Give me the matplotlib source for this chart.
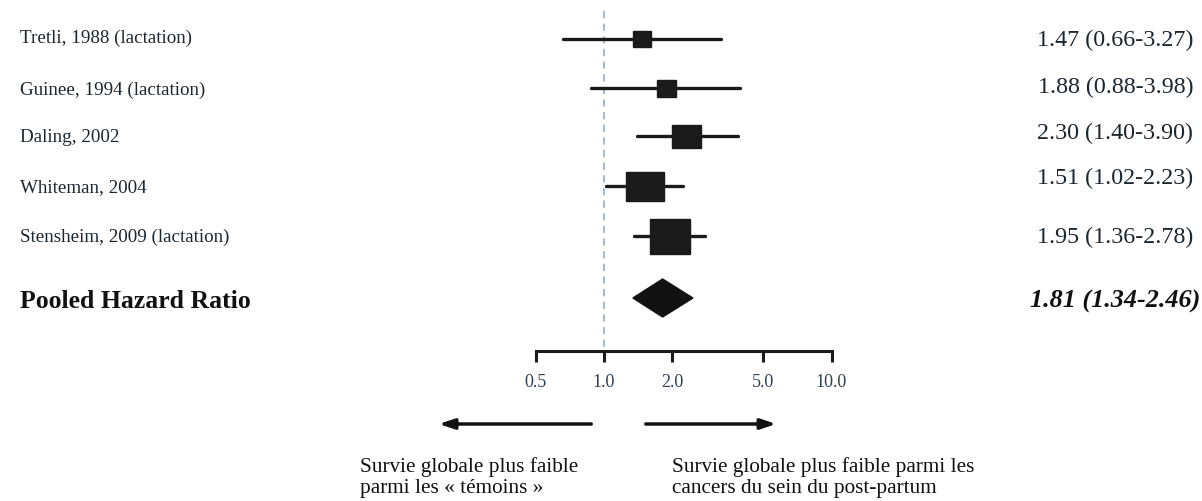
import matplotlib
matplotlib.use("Agg")
import matplotlib.pyplot as plt
from matplotlib.patches import Rectangle, Polygon
import numpy as np

# ---- data ----
studies = ["Tretli, 1988 (lactation)", "Guinee, 1994 (lactation)", "Daling, 2002",
           "Whiteman, 2004", "Stensheim, 2009 (lactation)"]
hr = [1.47, 1.88, 2.30, 1.51, 1.95]
lo = [0.66, 0.88, 1.40, 1.02, 1.36]
hi = [3.27, 3.98, 3.90, 2.23, 2.78]
ci_labels = ["1.47 (0.66-3.27)", "1.88 (0.88-3.98)", "2.30 (1.40-3.90)",
             "1.51 (1.02-2.23)", "1.95 (1.36-2.78)"]
pooled_label = "Pooled Hazard Ratio"
pooled_hr, pooled_lo, pooled_hi = 1.81, 1.34, 2.46
pooled_ci_label = "1.81 (1.34-2.46)"
ticks = [0.5, 1.0, 2.0, 5.0, 10.0]
tick_labels = ["0.5", "1.0", "2.0", "5.0", "10.0"]
left_note = ["Survie globale plus faible", "parmi les « témoins »"]
right_note = ["Survie globale plus faible parmi les", "cancers du sein du post-partum"]

# ---- layout (pixels) ----
W, H = 1202, 502
x_ref, px_per_dec = 604, 227.5
row_y = [40, 89, 137, 187, 237]
pooled_y = 299
label_y_left = [38, 90, 138, 188, 237]
label_y_right = [40, 87, 133, 178, 237]
box_w = [18, 19, 29, 38, 40]   # box size (px) ~ study weight
box_h = [16, 17, 23, 29, 35]
axis_y = 352

plt.rcParams['font.family'] = ['Liberation Serif', 'DejaVu Serif']

fig = plt.figure(figsize=(W / 100, H / 100), dpi=100)
ax = fig.add_axes([0, 0, 1, 1])
ax.set_xscale('log')
ax.set_xlim(10 ** (-x_ref / px_per_dec), 10 ** ((W - x_ref) / px_per_dec))
ax.set_ylim(H, 0)
for s in ['top', 'right', 'left']:
    ax.spines[s].set_visible(False)
ax.spines['bottom'].set_position(('data', axis_y))
ax.spines['bottom'].set_bounds(ticks[0], ticks[-1])
ax.spines['bottom'].set_linewidth(2.2)
ax.spines['bottom'].set_color('#1a1a1a')
ax.set_yticks([])
ax.set_xticks(ticks)
ax.set_xticklabels(tick_labels)
ax.xaxis.set_minor_locator(matplotlib.ticker.NullLocator())
ax.tick_params(axis='x', direction='out', length=8, width=2.2, color='#1a1a1a',
               labelsize=13, labelcolor='#2e4052', pad=8)
ax.patch.set_alpha(0)

# reference line at 1
ax.plot([1, 1], [12, axis_y], ls=(0, (4, 3)), color='#9fb3c6', lw=1.3, zorder=1)

def hw(px):
    return 10 ** (px / 2 / px_per_dec)

for i in range(len(studies)):
    y = row_y[i]
    ax.plot([lo[i], hi[i]], [y, y], color='#1a1a1a', lw=2.4, solid_capstyle='round', zorder=2)
    f = hw(box_w[i])
    ax.add_patch(Rectangle((hr[i] / f, y - box_h[i] / 2), hr[i] * f - hr[i] / f, box_h[i],
                           facecolor='#1a1a1a', edgecolor='#1a1a1a', lw=1, zorder=3))

ax.add_patch(Polygon([(pooled_lo, pooled_y), (pooled_hr, pooled_y - 19),
                      (pooled_hi, pooled_y), (pooled_hr, pooled_y + 19)],
                     closed=True, facecolor='#111111', edgecolor='#111111', zorder=3))

# overlay pixel axes for text
tx = fig.add_axes([0, 0, 1, 1])
tx.set_xlim(0, W)
tx.set_ylim(H, 0)
tx.axis('off')
tx.patch.set_alpha(0)

for i, s in enumerate(studies):
    tx.text(20, label_y_left[i], s, fontsize=13.7, va='center', ha='left', color='#1a2630')
    tx.text(1193, label_y_right[i], ci_labels[i], fontsize=17.3, va='center', ha='right', color='#1a2630')
tx.text(20, 302, pooled_label, fontsize=18.5, fontweight='bold', va='center', ha='left', color='#111111')
tx.text(1200, 301, pooled_ci_label, fontsize=18.8, fontstyle='italic', fontweight='bold',
        va='center', ha='right', color='#111111')

tx.annotate('', xy=(436, 425), xytext=(594, 425),
            arrowprops=dict(arrowstyle='-|>,head_length=0.9,head_width=0.3', lw=2.5, color='#111111'))
tx.annotate('', xy=(779, 425), xytext=(643, 425),
            arrowprops=dict(arrowstyle='-|>,head_length=0.9,head_width=0.3', lw=2.5, color='#111111'))

for k, (l, r) in enumerate(zip(left_note, right_note)):
    yb = 472 + 21 * k
    tx.text(360, yb, l, fontsize=15.3, va='baseline', ha='left', color='#111111')
    tx.text(672, yb, r, fontsize=15.3, va='baseline', ha='left', color='#111111')

fig.savefig('out.png', dpi=100)
